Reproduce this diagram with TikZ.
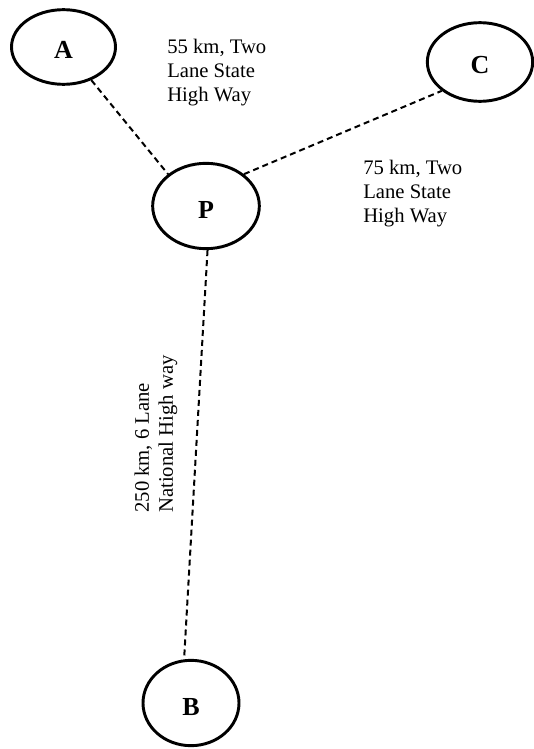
\documentclass[tikz,border=0pt]{standalone}
\usepackage{fontspec}
\setmainfont{Liberation Serif}
\usetikzlibrary{shapes.geometric}
\begin{document}
\begin{tikzpicture}[x=0.75pt,y=-0.75pt,
  place/.style={ellipse, draw, line width=2.2pt, inner sep=0pt,
    text height=18pt, text depth=0pt,
    font=\fontsize{19.5}{22}\selectfont\bfseries},
  road/.style={line width=1.5pt, dash pattern=on 4.5pt off 3pt},
  lbl/.style={align=left, inner sep=0pt, font=\fontsize{15.5}{18}\selectfont}]
\useasboundingbox (0,0) rectangle (534,749);
\node[place, minimum width=78pt, minimum height=56pt] (A) at (63.5,47) {A};
\node[place, minimum width=80pt, minimum height=64pt] (P) at (206,206) {P};
\node[place, minimum width=79pt, minimum height=59pt] (C) at (480,62) {C};
\node[place, minimum width=72pt, minimum height=64pt] (B) at (191,703) {B};
\draw[road] (A.-50) -- (P.140);
\draw[road] (P.40) -- (C.217);
\draw[road] (P.272) -- (B.99);
\node[lbl, anchor=west] (l1) at (167,73) {55 km, Two\\Lane State\\High Way};
\node[lbl, anchor=west] (l2) at (363,194) {75 km, Two\\Lane State\\High Way};
\node[lbl, rotate=90] (l3) at (156,434) {250 km, 6 Lane\\National High way};
\end{tikzpicture}
\end{document}
